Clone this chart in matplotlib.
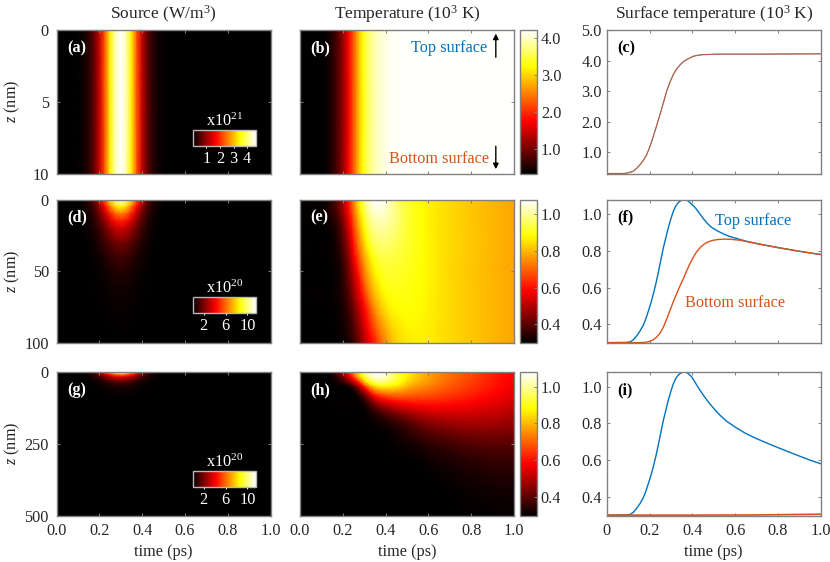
import numpy as np
import matplotlib
matplotlib.use("Agg")
import matplotlib.pyplot as plt
import matplotlib.tri as mtri
from matplotlib.colors import LinearSegmentedColormap

plt.rcParams['font.family'] = ['Liberation Serif', 'DejaVu Serif']
plt.rcParams['mathtext.fontset'] = 'custom'
plt.rcParams['mathtext.rm'] = 'Liberation Serif'
plt.rcParams['mathtext.it'] = 'Liberation Serif:italic'
plt.rcParams['mathtext.bf'] = 'Liberation Serif:bold'

# ---- data ----
src_t = [0, .05, .075, .1, .125, .15, .175, .2, .225, .25, .275, .3, .325, .35, .375, .4, .425, .45, .475, .5, .525, .55, 1]
src_shape = [0, 0, .0017, .0065, .021, .059, .14, .284, .492, .73, .924, 1, .924, .73, .492, .284, .14, .059, .021, .0065, .0017, 0, 0]
src_z = [0, 5, 10, 15, 20, 30, 40, 50, 60, 80, 100]
src_depth = [1, .745, .555, .414, .308, .171, .095, .053, .029, .009, .003]
src_peak_a = 4.63
src_peak_d = 11.5
src_z_g = [0, 5, 10, 15, 20, 30, 40, 50, 60, 80, 100, 500]
src_depth_g = [1, .745, .555, .414, .308, .171, .095, .053, .029, .009, .003, 0]

thin_t = [0, .08, .1, .124, .14, .156, .172, .187, .203, .218, .233, .249, .265, .28, .296, .311, .327, .343, .358, .374, .39, .405, .425, .444, .48, .53, .7, 1]
thin_T = [.3, .3, .32, .372, .47, .59, .74, .92, 1.2, 1.52, 1.86, 2.23, 2.62, 2.99, 3.3, 3.54, 3.72, 3.86, 3.96, 4.03, 4.09, 4.14, 4.17, 4.19, 4.2, 4.21, 4.21, 4.22]

grid_t = [0, .05, .1, .15, .2, .25, .3, .35, .4, .45, .5, .55, .6, .65, .7, .75, .8, .85, .9, .95, 1]
mid_z = [0, 20, 40, 60, 80, 100]
mid_T = [
 [.3, .3, .302, .35, .49, .73, .975, 1.077, 1.05, .965, .92, .89, .87, .853, .84, .828, .818, .808, .798, .789, .78],
 [.3, .3, .3, .32, .42, .65, .88, .995, 1.0, .97, .925, .895, .87, .853, .84, .828, .818, .808, .798, .789, .78],
 [.3, .3, .3, .31, .37, .56, .78, .91, .94, .93, .915, .895, .875, .855, .84, .828, .818, .808, .798, .789, .78],
 [.3, .3, .3, .305, .345, .48, .68, .83, .895, .905, .898, .887, .872, .855, .84, .828, .818, .808, .798, .789, .78],
 [.3, .3, .3, .302, .325, .41, .57, .73, .83, .872, .883, .88, .868, .853, .84, .828, .818, .808, .798, .789, .78],
 [.3, .3, .3, .3, .306, .355, .49, .625, .75, .83, .855, .864, .862, .852, .84, .828, .818, .808, .798, .789, .78],
]
thick_z = [0, 20, 50, 100, 150, 200, 300, 500]
thick_T = [
 [.3, .3, .302, .35, .49, .73, .975, 1.077, 1.05, .955, .88, .82, .78, .745, .717, .692, .668, .645, .622, .60, .58],
 [.3, .3, .3, .315, .42, .64, .90, 1.035, 1.02, .94, .868, .812, .773, .739, .711, .688, .664, .642, .619, .598, .578],
 [.3, .3, .3, .3, .31, .39, .64, .844, .88, .85, .80, .762, .738, .711, .687, .667, .646, .627, .607, .587, .569],
 [.3, .3, .3, .3, .3, .301, .348, .493, .574, .612, .625, .63, .63, .624, .615, .606, .594, .58, .567, .552, .537],
 [.3, .3, .3, .3, .3, .3, .302, .334, .378, .421, .455, .485, .508, .519, .522, .526, .524, .518, .513, .503, .492],
 [.3, .3, .3, .3, .3, .3, .3, .303, .313, .332, .356, .385, .41, .426, .437, .448, .453, .454, .455, .45, .444],
 [.3, .3, .3, .3, .3, .3, .3, .3, .3, .301, .303, .308, .318, .326, .334, .344, .352, .357, .363, .363, .362],
 [.3, .3, .3, .3, .3, .3, .3, .3, .3, .3, .3, .3, .3, .3, .3, .301, .301, .302, .304, .304, .304],
]

top_f_t = [0, .09, .11, .125, .14, .155, .171, .183, .195, .207, .218, .23, .241, .253, .265, .277, .288, .30, .311, .323, .335, .35, .366, .38, .397, .413, .43, .452, .47, .49, .51, .529, .55, .576, .6, .623, .65, .7, .8, .9, 1]
top_f = [.3, .301, .304, .316, .337, .362, .395, .43, .473, .518, .565, .622, .682, .75, .818, .875, .927, .975, 1.015, 1.045, 1.064, 1.077, 1.08, 1.073, 1.054, 1.037, 1.01, .975, .95, .928, .914, .902, .89, .878, .87, .862, .853, .84, .818, .798, .78]
top_i_t = [0, .09, .11, .125, .14, .155, .171, .183, .195, .207, .218, .23, .241, .253, .265, .277, .288, .30, .311, .323, .335, .35, .366, .38, .397, .415, .436, .46, .483, .505, .529, .56, .6, .65, .7, .75, .8, .85, .9, .95, 1]
top_i = [.3, .301, .304, .316, .337, .362, .395, .43, .473, .518, .565, .622, .682, .75, .818, .875, .927, .975, 1.015, 1.045, 1.064, 1.077, 1.08, 1.073, 1.054, 1.02, .98, .94, .905, .875, .845, .812, .78, .745, .717, .692, .668, .645, .622, .60, .58]
bot_f_t = [0, .15, .175, .202, .218, .233, .25, .265, .28, .296, .31, .327, .342, .358, .373, .389, .405, .42, .44, .459, .478, .498, .52, .545, .58, .623, .65, .7, .8, .9, 1]
bot_f = [.3, .3, .301, .307, .316, .33, .353, .385, .428, .476, .52, .567, .608, .648, .69, .73, .767, .795, .822, .84, .851, .858, .862, .864, .863, .858, .852, .84, .818, .798, .78]
bot_i_t = [0, .4, .7, 1]
bot_i = [.3, .3, .301, .305]

xticks = [0, .2, .4, .6, .8, 1]
xlabels_heat = ['0.0', '0.2', '0.4', '0.6', '0.8', '1.0']
xlabels_line = ['0', '0.2', '0.4', '0.6', '0.8', '1.0']
titles = ['Source (W/m$^3$)', 'Temperature (10$^3$ K)', 'Surface temperature (10$^3$ K)']

BLUE = '#0072BD'
ORANGE = '#D95319'
GRAY = '#808080'
INK = '#262626'
FS = 11.7

hot_black = LinearSegmentedColormap.from_list(
    'hot_black', [(0, '#000000'), (.365, '#ff0000'), (.75, '#ffff00'), (1, '#ffffff')], N=256)

W, H = 830, 562
fig = plt.figure(figsize=(W / 100, H / 100), dpi=100)


def axpx(x0, y0, x1, y1):
    return fig.add_axes([x0 / W, 1 - y1 / H, (x1 - x0) / W, (y1 - y0) / H])


cols = [(56.5, 270.5), (300, 514), (606.7, 820.7)]
rows = [(30, 173.5), (199.5, 343), (372, 515.5)]
inset_tops = [130, 297, 471]


def style(ax, ypad=5.5, labels=None):
    for s in ax.spines.values():
        s.set_color(GRAY)
        s.set_linewidth(1.0)
    ax.tick_params(direction='in', length=2.5, width=.7, color=GRAY, top=True, right=True,
                   labelsize=FS, labelcolor=INK)
    ax.tick_params(axis='y', pad=ypad)
    ax.tick_params(axis='x', pad=5.5)
    ax.set_xticks(xticks)
    if labels:
        ax.set_xticklabels(labels)
        ax.set_xlabel('time (ps)', fontsize=FS, color=INK, labelpad=3.5)
    else:
        ax.set_xticklabels([])


def heat(ax, t, z, vals, vmin, vmax):
    m = ax.pcolormesh(t, z, vals, shading='gouraud', cmap=hot_black, vmin=vmin, vmax=vmax)
    ax.set_xlim(0, 1)
    ax.set_ylim(max(z), 0)
    return m


def heat_smooth(ax, t, z, vals, vmin, vmax):
    zmax = max(z)
    tt, zz = np.meshgrid(t, np.array(z) / zmax)
    vv = np.array(vals).ravel()
    tri = mtri.Triangulation(tt.ravel(), zz.ravel())
    fine, fine_v = mtri.UniformTriRefiner(tri).refine_field(vv, subdiv=3)
    fine2 = mtri.Triangulation(fine.x, fine.y * zmax, fine.triangles)
    m = ax.tripcolor(fine2, fine_v, shading='gouraud', cmap=hot_black, vmin=vmin, vmax=vmax)
    ax.set_xlim(0, 1)
    ax.set_ylim(zmax, 0)
    return m


def label(ax, s, color='white'):
    ax.text(.05, .875, s, transform=ax.transAxes, color=color, fontsize=FS, fontweight='bold',
            ha='left', va='center')


def inset(rowi, m, ticks, txt):
    y0 = inset_tops[rowi]
    ax = axpx(192.7, y0, 255.7, y0 + 16)
    cb = fig.colorbar(m, cax=ax, orientation='horizontal')
    cb.set_ticks(ticks)
    cb.outline.set_edgecolor('#b8b8b8')
    cb.outline.set_linewidth(1.0)
    ax.tick_params(axis='x', direction='out', length=1.5, width=.7, color='white',
                   labelcolor='white', labelsize=FS, pad=2)
    fig.text(224.5 / W, 1 - (y0 - 9) / H, txt, color='white', fontsize=FS, ha='center', va='center')


def cbar(rowi, m, ticks, fmt):
    y0, y1 = rows[rowi]
    ax = axpx(520, y0, 536.7, y1)
    cb = fig.colorbar(m, cax=ax)
    cb.set_ticks(ticks)
    cb.set_ticklabels([fmt % v for v in ticks])
    cb.outline.set_edgecolor(GRAY)
    cb.outline.set_linewidth(1.0)
    ax.tick_params(axis='y', direction='in', length=2.5, width=.7, color=GRAY, labelcolor=INK,
                   labelsize=FS, pad=3)


# column 1: source
shape = np.array(src_shape)
a = axpx(cols[0][0], rows[0][0], cols[0][1], rows[0][1])
m = heat(a, src_t, [0, 10], np.outer([src_peak_a, src_peak_a], shape), 0, src_peak_a)
style(a)
a.set_yticks([0, 5, 10])
label(a, '(a)')
inset(0, m, [1, 2, 3, 4], 'x10$^{21}$')

d = axpx(cols[0][0], rows[1][0], cols[0][1], rows[1][1])
m = heat(d, src_t, src_z, src_peak_d * np.outer(src_depth, shape), 0, src_peak_d)
style(d)
d.set_yticks([0, 50, 100])
label(d, '(d)')
inset(1, m, [2, 6, 10], 'x10$^{20}$')

g = axpx(cols[0][0], rows[2][0], cols[0][1], rows[2][1])
m = heat(g, src_t, src_z_g, src_peak_d * np.outer(src_depth_g, shape), 0, src_peak_d)
style(g, labels=xlabels_heat)
g.set_yticks([0, 250, 500])
label(g, '(g)')
inset(2, m, [2, 6, 10], 'x10$^{20}$')

for (y0, y1) in rows:
    fig.text(12 / W, 1 - (y0 + y1) / 2 / H, '$\\mathit{z}$ (nm)', fontsize=FS, color=INK, rotation=90,
             ha='center', va='center')

# column 2: temperature
b = axpx(cols[1][0], rows[0][0], cols[1][1], rows[0][1])
m = heat(b, thin_t, [0, 10], np.array([thin_T, thin_T]), .32, 4.23)
style(b)
b.set_yticks([0, 5, 10])
b.set_yticklabels([])
label(b, '(b)')
cbar(0, m, [1, 2, 3, 4], '%.1f')
b.text(.874, .875, 'Top surface', color=BLUE, fontsize=FS, ha='right', va='center', transform=b.transAxes)
b.text(.883, .1, 'Bottom surface', color=ORANGE, fontsize=FS, ha='right', va='center', transform=b.transAxes)
b.annotate('', xy=(.915, .975), xytext=(.915, .81), xycoords='axes fraction',
           arrowprops=dict(arrowstyle='-|>', color='black', lw=1, mutation_scale=8, shrinkA=0, shrinkB=0))
b.annotate('', xy=(.915, .03), xytext=(.915, .19), xycoords='axes fraction',
           arrowprops=dict(arrowstyle='-|>', color='black', lw=1, mutation_scale=8, shrinkA=0, shrinkB=0))

e = axpx(cols[1][0], rows[1][0], cols[1][1], rows[1][1])
m = heat_smooth(e, grid_t, mid_z, mid_T, .298, 1.08)
style(e)
e.set_yticks([0, 50, 100])
e.set_yticklabels([])
label(e, '(e)')
cbar(1, m, [.4, .6, .8, 1.0], '%.1f')

h = axpx(cols[1][0], rows[2][0], cols[1][1], rows[2][1])
m = heat_smooth(h, grid_t, thick_z, thick_T, .298, 1.08)
style(h, labels=xlabels_heat)
h.set_yticks([0, 250, 500])
h.set_yticklabels([])
label(h, '(h)')
cbar(2, m, [.4, .6, .8, 1.0], '%.1f')

# column 3: surface temperature
c = axpx(cols[2][0], rows[0][0], cols[2][1], rows[0][1])
c.plot(thin_t, thin_T, color=BLUE, lw=.6)
c.plot(thin_t, thin_T, color=ORANGE, lw=.9, alpha=.75)
c.set_xlim(0, 1)
c.set_ylim(.3, 5)
style(c, ypad=3.5)
c.set_yticks([1, 2, 3, 4, 5])
c.set_yticklabels(['1.0', '2.0', '3.0', '4.0', '5.0'])
label(c, '(c)', 'black')

f = axpx(cols[2][0], rows[1][0], cols[2][1], rows[1][1])
f.plot(top_f_t, top_f, color=BLUE, lw=1)
f.plot(bot_f_t, bot_f, color=ORANGE, lw=1)
f.set_xlim(0, 1)
f.set_ylim(.298, 1.08)
style(f, ypad=3.5)
f.set_yticks([.4, .6, .8, 1.0])
f.set_yticklabels(['0.4', '0.6', '0.8', '1.0'])
label(f, '(f)', 'black')
f.text(.861, .85, 'Top surface', color=BLUE, fontsize=FS, ha='right', va='center', transform=f.transAxes)
f.text(.833, .28, 'Bottom surface', color=ORANGE, fontsize=FS, ha='right', va='center', transform=f.transAxes)

i = axpx(cols[2][0], rows[2][0], cols[2][1], rows[2][1])
i.plot(top_i_t, top_i, color=BLUE, lw=1)
i.plot(bot_i_t, bot_i, color=ORANGE, lw=1.2)
i.set_xlim(0, 1)
i.set_ylim(.298, 1.08)
style(i, ypad=3.5, labels=xlabels_line)
i.set_yticks([.4, .6, .8, 1.0])
i.set_yticklabels(['0.4', '0.6', '0.8', '1.0'])
label(i, '(i)', 'black')

for (x0, x1), t in zip(cols, titles):
    fig.text((x0 + x1) / 2 / W, 1 - 14.5 / H, t, fontsize=12.5, color=INK, ha='center', va='center')

fig.savefig('out.png', dpi=100)
